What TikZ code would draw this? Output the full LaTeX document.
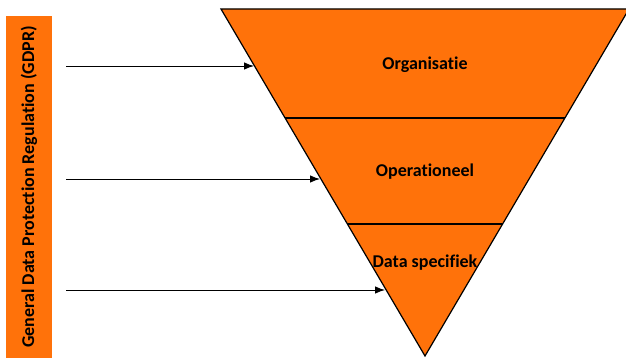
\documentclass[tikz,border=0pt]{standalone}
\usepackage{fontspec}
\setmainfont{Carlito}[Ligatures={NoCommon}]
\usetikzlibrary{arrows.meta}
\definecolor{gdprorange}{RGB}{255,114,10}

\begin{document}
\begin{tikzpicture}[x=1pt,y=-1pt,
    layer/.style={font=\fontsize{18}{21}\selectfont\bfseries},
    band/.style={fill=gdprorange,draw=none,rotate=90,inner sep=0pt,
      minimum width=342pt,minimum height=46pt,
      font=\fontsize{18}{21}\selectfont\bfseries},
    feed/.style={draw,-{Latex[length=10pt,width=7.5pt]},line width=0.9pt}]
  \useasboundingbox (0,0) rectangle (626,358);
  % the funnel
  \filldraw[fill=gdprorange,line width=1.2pt,line join=miter]
    (221,9) -- (629,9) -- (425,356) -- cycle;
  \draw[line width=1.5pt] (285,118) -- (565,118);
  \draw[line width=1.5pt] (347,224) -- (503,224);
  \node[layer] (org) at (425,65) {Organisatie};
  \node[layer] (ops) at (425,172) {Operationeel};
  \node[layer] (dat) at (425,263) {Data specifiek};
  % the regulation
  \node[band] (gdpr) at (29,187) {General Data Protection Regulation (GDPR)};
  \coordinate (s1) at (66,66);   \coordinate (e1) at (254,66);
  \coordinate (s2) at (66,179);  \coordinate (e2) at (320,179);
  \coordinate (s3) at (66,290);  \coordinate (e3) at (385,290);
  \path[every edge/.style=feed]
    (s1) edge (e1)
    (s2) edge (e2)
    (s3) edge (e3);
\end{tikzpicture}
\end{document}
